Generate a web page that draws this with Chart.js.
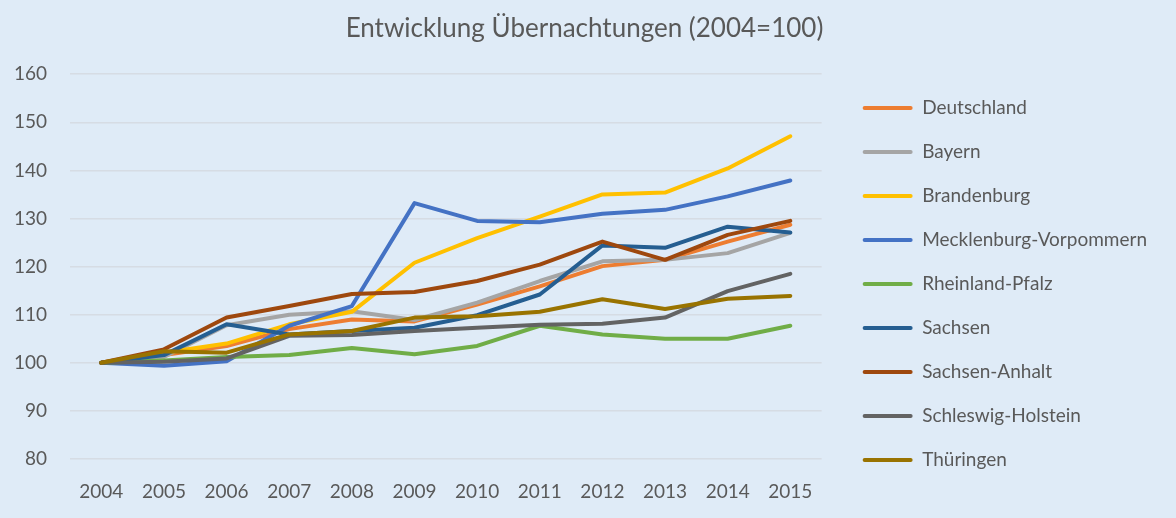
<!DOCTYPE html>
<html lang="de">
<head>
<meta charset="utf-8">
<title>Entwicklung Übernachtungen</title>
<script src="https://cdn.jsdelivr.net/npm/chart.js@4/dist/chart.umd.min.js"></script>
<style>
  html, body { margin: 0; padding: 0; background: #DFEBF7; }
  canvas { display: block; }
</style>
</head>
<body>
<canvas id="uebernachtungenChart" width="1176" height="518"></canvas>
<script>
// Jahre und Indexwerte (2004 = 100)
var jahre = ['2004', '2005', '2006', '2007', '2008', '2009', '2010', '2011', '2012', '2013', '2014', '2015'];

var deutschland       = [100, 101.6, 103.5, 107.0, 109.0, 108.6, 112.1, 115.9, 120.1, 121.4, 125.2, 128.7];
var bayern            = [100, 101.2, 107.8, 110.0, 110.7, 108.9, 112.5, 117.0, 121.1, 121.4, 122.8, 127.0];
var brandenburg       = [100, 102.1, 104.0, 108.0, 110.6, 120.8, 125.9, 130.4, 135.0, 135.4, 140.4, 147.1];
var mecklenburgVorp   = [100, 99.4, 100.3, 107.7, 111.8, 133.2, 129.5, 129.2, 131.0, 131.8, 134.6, 137.9];
var rheinlandPfalz    = [100, 100.5, 101.2, 101.6, 103.1, 101.8, 103.5, 107.7, 105.9, 105.0, 105.0, 107.7];
var sachsen           = [100, 101.6, 108.0, 105.9, 106.6, 107.3, 109.9, 114.2, 124.4, 123.9, 128.3, 127.1];
var sachsenAnhalt     = [100, 102.8, 109.4, 111.8, 114.3, 114.7, 117.0, 120.4, 125.2, 121.4, 126.6, 129.5];
var schleswigHolstein = [100, 100.2, 100.9, 105.6, 105.8, 106.6, 107.3, 107.9, 108.1, 109.4, 114.9, 118.5];
var thueringen        = [100, 102.4, 102.1, 105.9, 106.6, 109.4, 109.7, 110.6, 113.2, 111.2, 113.3, 113.9];

var yTicks = [80, 90, 100, 110, 120, 130, 140, 150, 160];

var serien = [
    { name: 'Deutschland', data: deutschland, farbe: '#ED7D31' },
    { name: 'Bayern', data: bayern, farbe: '#A5A5A5' },
    { name: 'Brandenburg', data: brandenburg, farbe: '#FFC000' },
    { name: 'Mecklenburg-Vorpommern', data: mecklenburgVorp, farbe: '#4472C4' },
    { name: 'Rheinland-Pfalz', data: rheinlandPfalz, farbe: '#70AD47' },
    { name: 'Sachsen', data: sachsen, farbe: '#255E91' },
    { name: 'Sachsen-Anhalt', data: sachsenAnhalt, farbe: '#9E480E' },
    { name: 'Schleswig-Holstein', data: schleswigHolstein, farbe: '#636363' },
    { name: 'Thüringen', data: thueringen, farbe: '#997300' }
];

var textFarbe = '#595959';
var schrift = "Lato, 'Open Sans', sans-serif";

document.addEventListener("DOMContentLoaded", function () {
    var canvas = document.getElementById('uebernachtungenChart');
    if (!canvas) return;
    var ctx = canvas.getContext('2d');

    // spätere Reihen werden oben gezeichnet
    var datasets = serien.map(function (s, i) {
        return {
            label: s.name,
            data: s.data,
            borderColor: s.farbe,
            backgroundColor: s.farbe,
            borderWidth: 4,
            borderCapStyle: 'round',
            borderJoinStyle: 'round',
            pointRadius: 0,
            pointHoverRadius: 0,
            tension: 0,
            order: serien.length - i
        };
    });

    // Legende: flache Balken statt Kästchen
    var standardLabels = Chart.defaults.plugins.legend.labels.generateLabels;

    new Chart(ctx, {
        type: 'line',
        data: {
            labels: jahre,
            datasets: datasets
        },
        options: {
            responsive: false,
            animation: false,
            layout: {
                padding: { left: 12, right: 19, bottom: 0 }
            },
            plugins: {
                title: {
                    display: true,
                    text: 'Entwicklung Übernachtungen (2004=100)',
                    color: textFarbe,
                    font: { family: schrift, size: 26, weight: 'normal' },
                    padding: { top: 13, bottom: 30 }
                },
                legend: {
                    position: 'right',
                    align: 'center',
                    maxWidth: 330,
                    title: {
                        display: true,
                        text: ' ',
                        font: { size: 10 },
                        padding: { top: 0, bottom: 38 }
                    },
                    labels: {
                        boxWidth: 50,
                        boxHeight: 4,
                        padding: 25,
                        color: textFarbe,
                        font: { family: schrift, size: 19 },
                        sort: function (a, b) { return a.datasetIndex - b.datasetIndex; },
                        generateLabels: function (chart) {
                            return standardLabels(chart).map(function (item) {
                                item.lineWidth = 0;
                                item.borderRadius = 2;
                                return item;
                            });
                        }
                    }
                },
                tooltip: { enabled: false }
            },
            scales: {
                x: {
                    offset: true,
                    grid: { display: false, drawTicks: false },
                    border: { display: false },
                    ticks: {
                        color: textFarbe,
                        padding: 21,
                        maxRotation: 0,
                        font: { family: schrift, size: 19 }
                    },
                    afterFit: function (axis) { axis.height = 59; }
                },
                y: {
                    min: yTicks[0],
                    max: yTicks[yTicks.length - 1],
                    afterBuildTicks: function (axis) {
                        axis.ticks = yTicks.map(function (v) { return { value: v }; });
                    },
                    grid: { color: '#D6DCE4', lineWidth: 1.5, drawTicks: false },
                    border: { display: false },
                    ticks: {
                        color: textFarbe,
                        padding: 23,
                        font: { family: schrift, size: 19 }
                    },
                    afterFit: function (axis) { axis.width = 58; }
                },
                // leere Achse rechts als Abstand zur Legende
                abstand: {
                    axis: 'y',
                    position: 'right',
                    grid: { display: false, drawTicks: false },
                    border: { display: false },
                    ticks: { display: false },
                    afterFit: function (axis) { axis.width = 16; }
                }
            }
        }
    });
});
</script>
</body>
</html>
